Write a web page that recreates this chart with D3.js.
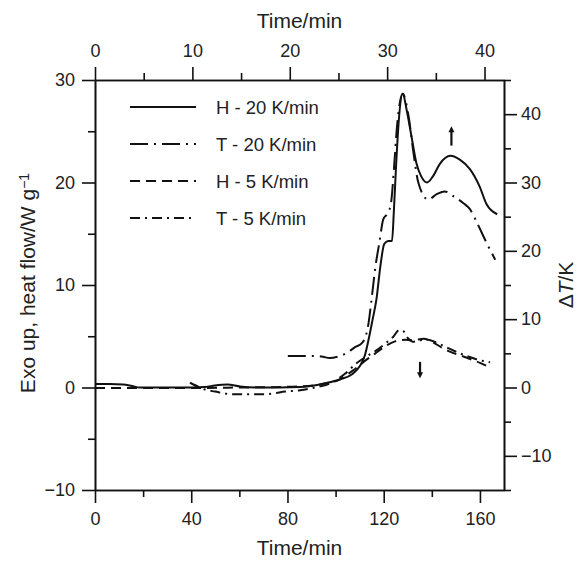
<!DOCTYPE html>
<html><head><meta charset="utf-8">
<script src="https://cdn.jsdelivr.net/npm/d3@7"></script>
<style>
body{margin:0;background:#fff}
svg text{font-family:"Liberation Sans",Arial,Helvetica,sans-serif;fill:#222}
</style>
</head><body><svg id="c" width="577" height="562"></svg>
<script>
// ---- data ----
// H - 20 K/min : time on top axis (min), heat flow (W/g, left axis)
const timeH20 = [0,1.5,2.9,3.8,4.6,8.7,11.3,12.3,13.6,14.9,16.9,21.1,23.1,25.2,26.4,27.2,27.7,28.1,28.5,28.9,29.3,29.7,30.1,30.5,30.7,30.9,31.2,31.6,32.0,32.5,33.0,33.5,34.1,34.7,35.4,36.5,37.5,38.5,39.5,40.2,41.3];
const heatH20 = [0.35,0.35,0.3,0.15,0.0,0.0,0.05,0.2,0.3,0.1,0.0,0.05,0.3,0.8,1.3,2.1,3.1,4.7,6.6,8.6,11.8,14.0,14.3,14.3,17.4,21.3,26.1,28.65,27.1,24.5,21.9,20.6,20.0,20.6,21.8,22.6,22.2,21.3,19.6,17.9,16.9];
// T - 20 K/min : time on top axis (min), ΔT (K, right axis)
const timeT20 = [19.8,21.1,22.8,23.4,24.1,24.9,25.9,26.7,27.4,27.8,28.1,28.4,28.8,29.2,29.6,30.1,30.4,30.7,31.0,31.6,32.2,32.7,33.2,34.2,35.1,35.9,36.8,37.8,38.5,39.2,40.2,41.1];
const dTT20 = [4.6,4.6,4.6,4.5,4.3,4.5,5.1,5.9,6.5,7.5,9.5,12.9,17.7,21.2,24.6,25.6,27.0,32.0,38.0,43.0,39.7,34.4,30.0,27.5,28.3,28.7,28.0,27.0,26.1,24.2,21.2,18.7];
// H - 5 K/min : time on bottom axis (min), heat flow (W/g, left axis)
const timeH5 = [0,18.7,39.5,60.3,76.9,85.2,93.5,101.8,105.0,108.1,112.2,116.4,120.5,124.7,128.8,132.0,136.7,140.5,143.4,147.5,154.6,160.0,164.2];
const heatH5 = [-0.05,-0.05,-0.05,0.0,0.05,0.1,0.3,0.8,1.3,1.8,2.6,3.3,4.0,4.5,4.65,4.6,4.75,4.4,4.0,3.5,2.9,2.4,1.95];
// T - 5 K/min : time on bottom axis (min), ΔT (K, right axis)
const timeT5 = [39.5,43.6,45.7,49.9,57.4,67.3,73.6,79.0,85.2,91.4,97.7,103.9,108.5,112.6,116.8,120.9,123.9,126.4,128.0,130.1,132.2,135.1,138.4,141.7,145.5,149.6,153.8,158.8,164.2];
const dTT5 = [0.7,0.0,-0.3,-0.6,-1.0,-1.0,-0.9,-0.6,-0.4,0.0,0.6,2.0,3.5,4.5,5.4,6.5,7.4,8.4,8.3,7.2,6.7,6.9,7.0,6.6,6.0,5.3,4.7,4.1,3.7];

const legendLabels = ["H - 20 K/min","T - 20 K/min","H - 5 K/min","T - 5 K/min"];
const bottomMajor = [0,40,80,120,160], bottomMinor = [20,60,100,140];
const topMajor = [0,10,20,30,40], topMinor = [5,15,25,35];
const leftMajor = [-10,0,10,20,30], leftMinor = [-5,5,15,25];
const rightMajor = [-10,0,10,20,30,40], rightMinor = [-15,-5,5,15,25,35,45];
// arrows: x-axis used, time, heat flow from -> to
const arrowUp = {axis:"top", t:36.6, from:23.6, to:25.5};
const arrowDown = {axis:"bottom", t:135.1, from:2.5, to:0.9};

// ---- layout ----
const L=95, R=504, T=80, B=490;
const svg = d3.select("#c");
const xB = d3.scaleLinear([0,170],[L,R]);
const xT = d3.scaleLinear([0,42],[L,R]);
const yL = d3.scaleLinear([-10,30],[B,T]);
const yR = d3.scaleLinear([-15,45],[B,T]);

const MAJ=13, MIN=7, FS=18;
function axis(gen, scale, major, minor, pos, pad){
  const g1 = svg.append("g").attr("transform",pos)
    .call(gen(scale).tickValues(minor).tickSize(MIN).tickSizeOuter(0).tickFormat(""));
  const g2 = svg.append("g").attr("transform",pos)
    .call(gen(scale).tickValues(major).tickSize(MAJ).tickSizeOuter(0).tickPadding(pad));
  [g1,g2].forEach(g=>{
    g.selectAll("path,line").attr("stroke","#111").attr("stroke-width",1.6);
    g.selectAll("text").style("font-size",FS+"px").attr("fill","#222");
  });
  return g2;
}
axis(d3.axisBottom, xB, bottomMajor, bottomMinor, `translate(0,${B})`, 9);
axis(d3.axisTop, xT, topMajor, topMinor, `translate(0,${T})`, 10);
axis(d3.axisLeft, yL, leftMajor, leftMinor, `translate(${L},0)`, 7);
axis(d3.axisRight, yR, rightMajor, rightMinor, `translate(${R},0)`, 4);

// titles
const TFS = 21;
svg.append("text").attr("x",(L+R)/2).attr("y",555).attr("text-anchor","middle").style("font-size",TFS+"px").text("Time/min");
svg.append("text").attr("x",(L+R)/2).attr("y",28).attr("text-anchor","middle").style("font-size",TFS+"px").text("Time/min");
const lt = svg.append("text").attr("transform",`translate(35,${(T+B)/2-2}) rotate(-90)`).attr("text-anchor","middle").style("font-size",TFS+"px");
lt.append("tspan").text("Exo up, heat flow/W g");
lt.append("tspan").attr("dy","-0.45em").style("font-size","14px").text("\u22121");
const rt = svg.append("text").attr("transform",`translate(573,${(T+B)/2}) rotate(-90)`).attr("text-anchor","middle").style("font-size",TFS+"px");
rt.append("tspan").text("\u0394");
rt.append("tspan").style("font-style","italic").text("T");
rt.append("tspan").text("/K");

// curves
const styles = [
  {dash:null, w:2},
  {dash:"18,6,2,6", w:2},
  {dash:"10,6", w:2},
  {dash:"10,5,2,5", w:2}
];
const series = [
  {xs:timeH20, ys:heatH20, sx:xT, sy:yL},
  {xs:timeT20, ys:dTT20, sx:xT, sy:yR},
  {xs:timeH5, ys:heatH5, sx:xB, sy:yL},
  {xs:timeT5, ys:dTT5, sx:xB, sy:yR}
];
series.forEach((s,i)=>{
  const pts = s.xs.map((t,k)=>[t,s.ys[k]]);
  const line = d3.line().x(d=>s.sx(d[0])).y(d=>s.sy(d[1])).curve(d3.curveMonotoneX);
  svg.append("path").attr("d",line(pts)).attr("fill","none").attr("stroke","#111")
    .attr("stroke-width",styles[i].w).attr("stroke-dasharray",styles[i].dash);
});

// legend
legendLabels.forEach((lab,i)=>{
  const y = 107 + i*37;
  svg.append("line").attr("x1",130).attr("x2",196).attr("y1",y).attr("y2",y)
    .attr("stroke","#111").attr("stroke-width",2).attr("stroke-dasharray",styles[i].dash);
  svg.append("text").attr("x",216).attr("y",y+6.5).style("font-size","18.5px").text(lab);
});

// arrows
function arrow(a){
  const sx = a.axis==="top"?xT:xB;
  const x = sx(a.t), y1 = yL(a.from), y2 = yL(a.to);
  const dir = y2<y1 ? -1 : 1;
  svg.append("line").attr("x1",x).attr("x2",x).attr("y1",y1).attr("y2",y2-dir*5)
    .attr("stroke","#111").attr("stroke-width",2.2);
  svg.append("path").attr("d",`M${x-3},${y2-dir*6}L${x+3},${y2-dir*6}L${x},${y2}Z`).attr("fill","#111");
}
arrow(arrowUp); arrow(arrowDown);
</script>
</body></html>
